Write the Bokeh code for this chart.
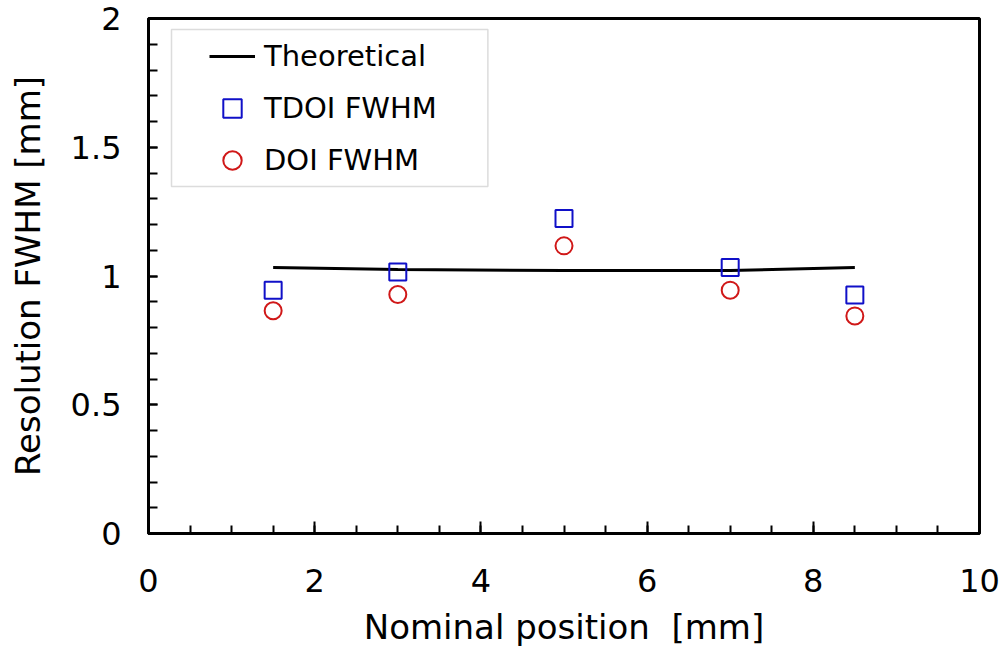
from bokeh.plotting import figure
from bokeh.models import (Range1d, Legend, LegendItem, BoxAnnotation,
                          SingleIntervalTicker, CustomJSTickFormatter)
from bokeh.embed import file_html
from bokeh.resources import INLINE

# ---- data ----
x_pos = [1.5, 3.0, 5.0, 7.0, 8.5]
theoretical = [1.033, 1.025, 1.021, 1.021, 1.033]
tdoi_fwhm = [0.945, 1.016, 1.223, 1.033, 0.926]
doi_fwhm = [0.865, 0.928, 1.117, 0.945, 0.845]

FONT = "DejaVu Sans"
W, H = 1000, 650
TOP = 18
FRAME_H = 515

p = figure(width=W, height=H, output_backend="svg", toolbar_location=None,
           x_range=Range1d(0, 10), y_range=Range1d(0, 2),
           min_border_left=148, min_border_top=TOP, min_border_right=W - 979,
           min_border_bottom=H - TOP - FRAME_H)
p.grid.visible = False
p.outline_line_color = "black"
p.outline_line_width = 3
p.background_fill_color = "white"
p.border_fill_color = "white"

# axes
xa = p.xaxis[0]
xa.ticker = SingleIntervalTicker(interval=2, num_minor_ticks=4)
ya = p.yaxis[0]
ya.ticker = SingleIntervalTicker(interval=0.5, num_minor_ticks=5)
xa.formatter = CustomJSTickFormatter(code="return String(Math.round(tick*10)/10);")
ya.formatter = CustomJSTickFormatter(code="return String(Math.round(tick*10)/10);")

for ax in (xa, ya):
    ax.axis_line_width = 3
    ax.axis_line_color = "black"
    ax.major_tick_out = 0
    ax.minor_tick_out = 0
    ax.major_tick_line_width = 2
    ax.minor_tick_line_width = 2
    ax.major_tick_line_color = "black"
    ax.minor_tick_line_color = "black"
    ax.major_label_text_font = FONT
    ax.major_label_text_font_size = "32px"
    ax.major_label_text_color = "black"
    ax.axis_label_text_font = FONT
    ax.axis_label_text_font_size = "34px"
    ax.axis_label_text_font_style = "normal"
    ax.axis_label_text_color = "black"

xa.major_tick_in = 12
xa.minor_tick_in = 8
ya.major_tick_in = 9
ya.minor_tick_in = 9
xa.major_label_standoff = 35
ya.major_label_standoff = 27
xa.axis_label = "Nominal position\u00a0 [mm]"
ya.axis_label = "Resolution FWHM [mm]"
xa.axis_label_standoff = 12
ya.axis_label_standoff = 20

# data
r_line = p.line(x_pos, theoretical, line_color="black", line_width=3)
r_sq = p.scatter(x_pos, tdoi_fwhm, marker="square", size=17,
                 fill_alpha=0, line_color="#1010c8", line_width=2)
r_ci = p.scatter(x_pos, doi_fwhm, marker="circle", size=17,
                 fill_alpha=0, line_color="#d01818", line_width=2)

# legend frame
box = BoxAnnotation(left=0.277, right=4.084, bottom=1.348, top=1.957,
                    fill_color="white", fill_alpha=1.0,
                    line_color="#8c8c8c", line_width=1.5)
p.add_layout(box)

legend = Legend(items=[LegendItem(label="Theoretical", renderers=[r_line]),
                       LegendItem(label="TDOI FWHM", renderers=[r_sq]),
                       LegendItem(label="DOI FWHM", renderers=[r_ci])],
                location=(57, 346),
                border_line_alpha=0, background_fill_alpha=0,
                padding=4, spacing=6, margin=0,
                glyph_width=46, glyph_height=46, label_height=46,
                label_standoff=9,
                label_text_font=FONT, label_text_font_size="29px",
                label_text_color="black")
p.add_layout(legend)

open("out.html", "w").write(file_html(p, INLINE))
